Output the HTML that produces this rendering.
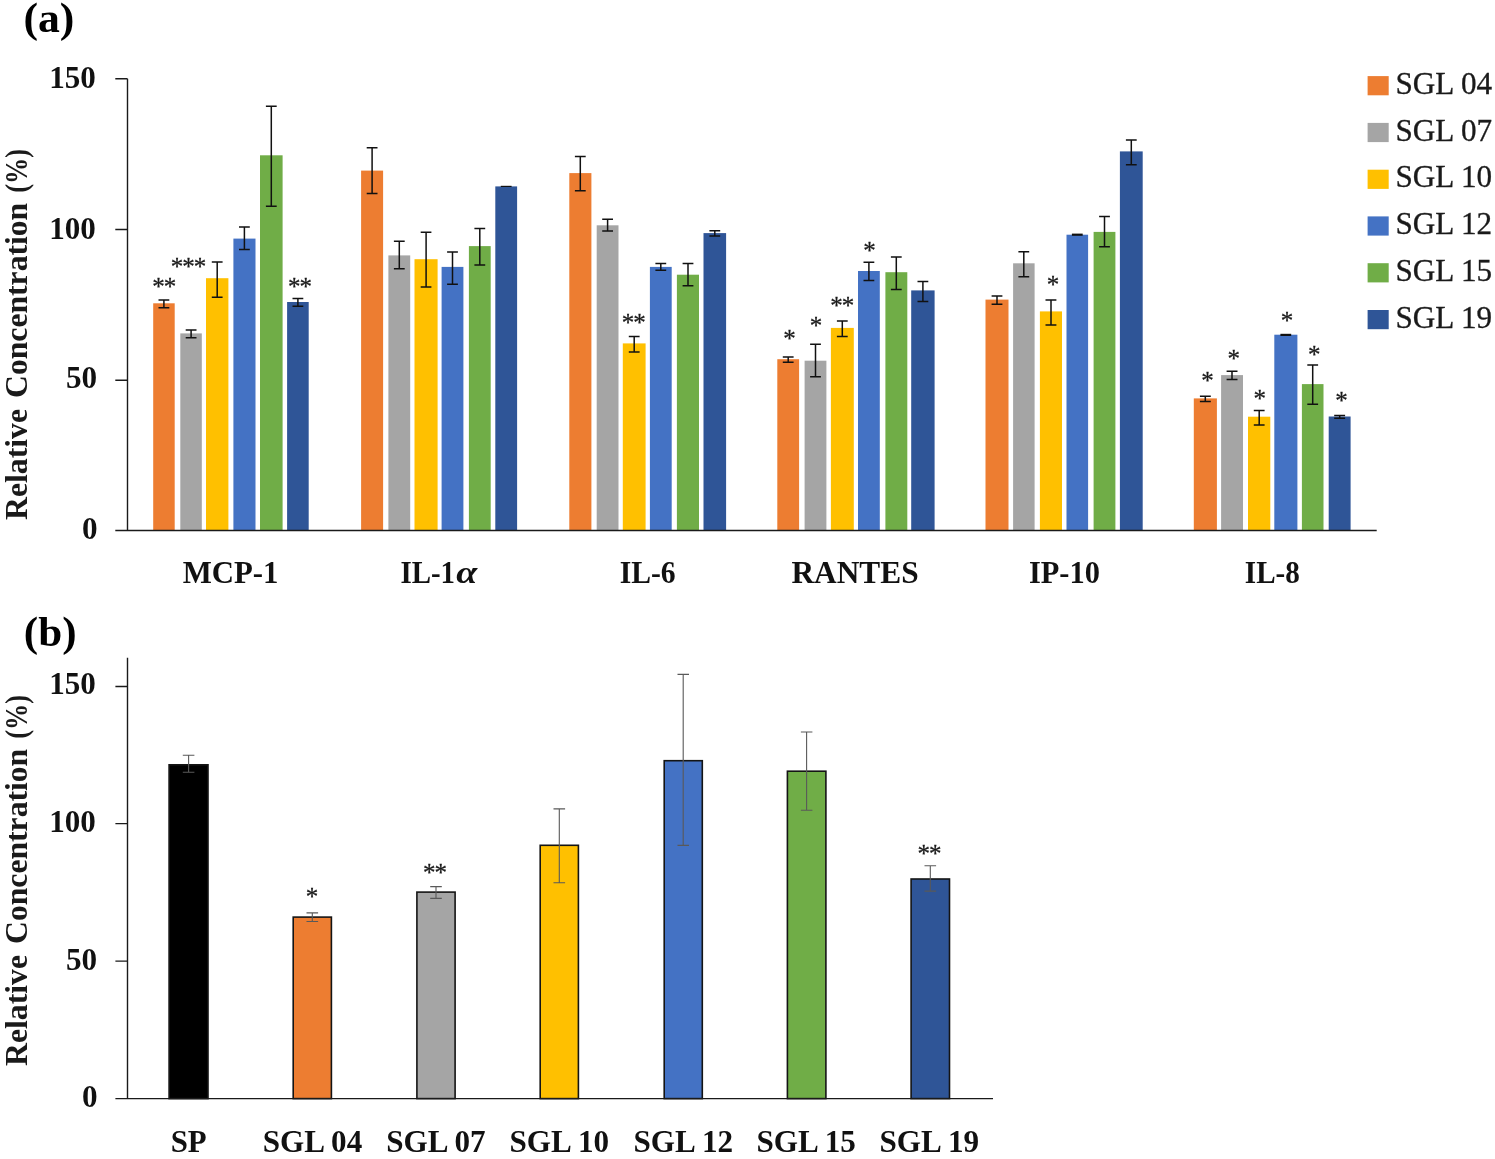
<!DOCTYPE html>
<html lang="en"><head><meta charset="utf-8"><title>Relative Concentration chart</title>
<style>html,body{margin:0;padding:0;background:#fff}body{width:1495px;height:1159px;overflow:hidden}svg{display:block}</style>
</head><body>
<svg width="1495" height="1159" viewBox="0 0 1495 1159">
<rect width="1495" height="1159" fill="#ffffff"/>
<text x="23.4" y="31.8" textLength="51" lengthAdjust="spacingAndGlyphs" font-family="'Liberation Serif', serif" font-weight="bold" font-size="43" fill="#000">(a)</text>
<text x="23.8" y="646.4" textLength="52.7" lengthAdjust="spacingAndGlyphs" font-family="'Liberation Serif', serif" font-weight="bold" font-size="43" fill="#000">(b)</text>
<rect x="153.2" y="303.3" width="21.5" height="227.2" fill="#ED7D31"/>
<rect x="180.3" y="333.4" width="21.5" height="197.1" fill="#A5A5A5"/>
<rect x="206.0" y="278.2" width="22.4" height="252.3" fill="#FFC000"/>
<rect x="233.4" y="238.6" width="22.1" height="291.9" fill="#4472C4"/>
<rect x="260.0" y="155.3" width="22.6" height="375.2" fill="#70AD47"/>
<rect x="287.1" y="302.0" width="21.6" height="228.5" fill="#2F5597"/>
<rect x="361.1" y="170.6" width="22.0" height="359.9" fill="#ED7D31"/>
<rect x="388.4" y="255.4" width="21.8" height="275.1" fill="#A5A5A5"/>
<rect x="414.5" y="259.2" width="23.1" height="271.3" fill="#FFC000"/>
<rect x="441.6" y="266.9" width="21.8" height="263.6" fill="#4472C4"/>
<rect x="468.9" y="246.1" width="21.8" height="284.4" fill="#70AD47"/>
<rect x="495.3" y="186.4" width="21.8" height="344.1" fill="#2F5597"/>
<rect x="569.3" y="173.1" width="22.1" height="357.4" fill="#ED7D31"/>
<rect x="596.7" y="225.3" width="21.8" height="305.2" fill="#A5A5A5"/>
<rect x="622.8" y="343.4" width="22.8" height="187.1" fill="#FFC000"/>
<rect x="649.9" y="266.9" width="21.8" height="263.6" fill="#4472C4"/>
<rect x="676.9" y="274.7" width="22.1" height="255.8" fill="#70AD47"/>
<rect x="703.5" y="233.1" width="22.6" height="297.4" fill="#2F5597"/>
<rect x="777.3" y="359.2" width="21.8" height="171.3" fill="#ED7D31"/>
<rect x="804.6" y="360.7" width="21.8" height="169.8" fill="#A5A5A5"/>
<rect x="830.9" y="327.9" width="22.9" height="202.6" fill="#FFC000"/>
<rect x="858.0" y="271.0" width="21.8" height="259.5" fill="#4472C4"/>
<rect x="885.4" y="272.2" width="21.9" height="258.3" fill="#70AD47"/>
<rect x="911.2" y="290.4" width="23.4" height="240.1" fill="#2F5597"/>
<rect x="985.5" y="299.6" width="23.0" height="230.9" fill="#ED7D31"/>
<rect x="1013.1" y="263.3" width="21.5" height="267.2" fill="#A5A5A5"/>
<rect x="1039.9" y="311.4" width="22.1" height="219.1" fill="#FFC000"/>
<rect x="1066.5" y="234.7" width="21.6" height="295.8" fill="#4472C4"/>
<rect x="1093.6" y="231.9" width="21.8" height="298.6" fill="#70AD47"/>
<rect x="1119.9" y="151.4" width="22.8" height="379.1" fill="#2F5597"/>
<rect x="1193.8" y="398.4" width="23.1" height="132.1" fill="#ED7D31"/>
<rect x="1221.1" y="375.1" width="21.9" height="155.4" fill="#A5A5A5"/>
<rect x="1248.0" y="416.7" width="22.3" height="113.8" fill="#FFC000"/>
<rect x="1274.3" y="334.7" width="23.1" height="195.8" fill="#4472C4"/>
<rect x="1301.9" y="384.1" width="21.6" height="146.4" fill="#70AD47"/>
<rect x="1328.7" y="416.5" width="21.9" height="114.0" fill="#2F5597"/>
<path d="M127.5 78.7 V530.5 M115.3 530.5 H1376.7 M115.3 78.7 H127.5 M115.3 229.5 H127.5 M115.3 380.3 H127.5" stroke="#1a1a1a" stroke-width="1.4" fill="none"/>
<path d="M163.9 300.0 V307.8 M158.5 300.0 H169.3 M158.5 307.8 H169.3" stroke="#111" stroke-width="1.5" fill="none"/>
<path d="M191.1 329.9 V337.7 M185.7 329.9 H196.5 M185.7 337.7 H196.5" stroke="#111" stroke-width="1.5" fill="none"/>
<path d="M217.2 261.9 V297.3 M211.8 261.9 H222.6 M211.8 297.3 H222.6" stroke="#111" stroke-width="1.5" fill="none"/>
<path d="M244.4 227.0 V249.4 M239.0 227.0 H249.8 M239.0 249.4 H249.8" stroke="#111" stroke-width="1.5" fill="none"/>
<path d="M271.3 106.2 V206.2 M265.9 106.2 H276.7 M265.9 206.2 H276.7" stroke="#111" stroke-width="1.5" fill="none"/>
<path d="M297.9 298.5 V306.3 M292.5 298.5 H303.3 M292.5 306.3 H303.3" stroke="#111" stroke-width="1.5" fill="none"/>
<path d="M372.1 147.8 V193.4 M366.7 147.8 H377.5 M366.7 193.4 H377.5" stroke="#111" stroke-width="1.5" fill="none"/>
<path d="M399.3 241.3 V268.7 M393.9 241.3 H404.7 M393.9 268.7 H404.7" stroke="#111" stroke-width="1.5" fill="none"/>
<path d="M426.1 232.3 V287.0 M420.7 232.3 H431.4 M420.7 287.0 H431.4" stroke="#111" stroke-width="1.5" fill="none"/>
<path d="M452.5 251.9 V284.2 M447.1 251.9 H457.9 M447.1 284.2 H457.9" stroke="#111" stroke-width="1.5" fill="none"/>
<path d="M479.8 228.5 V264.9 M474.4 228.5 H485.2 M474.4 264.9 H485.2" stroke="#111" stroke-width="1.5" fill="none"/>
<path d="M500.8 186.4 H511.6" stroke="#111" stroke-width="1.2" fill="none"/>
<path d="M580.3 156.6 V190.7 M574.9 156.6 H585.7 M574.9 190.7 H585.7" stroke="#111" stroke-width="1.5" fill="none"/>
<path d="M607.6 219.3 V231.1 M602.2 219.3 H613.0 M602.2 231.1 H613.0" stroke="#111" stroke-width="1.5" fill="none"/>
<path d="M634.2 336.4 V352.0 M628.8 336.4 H639.6 M628.8 352.0 H639.6" stroke="#111" stroke-width="1.5" fill="none"/>
<path d="M660.8 263.4 V270.2 M655.4 263.4 H666.2 M655.4 270.2 H666.2" stroke="#111" stroke-width="1.5" fill="none"/>
<path d="M688.0 263.4 V285.8 M682.6 263.4 H693.4 M682.6 285.8 H693.4" stroke="#111" stroke-width="1.5" fill="none"/>
<path d="M714.8 230.8 V236.1 M709.4 230.8 H720.2 M709.4 236.1 H720.2" stroke="#111" stroke-width="1.5" fill="none"/>
<path d="M788.2 357.0 V362.3 M782.8 357.0 H793.6 M782.8 362.3 H793.6" stroke="#111" stroke-width="1.5" fill="none"/>
<path d="M815.5 344.2 V376.8 M810.1 344.2 H820.9 M810.1 376.8 H820.9" stroke="#111" stroke-width="1.5" fill="none"/>
<path d="M842.3 320.9 V336.4 M836.9 320.9 H847.7 M836.9 336.4 H847.7" stroke="#111" stroke-width="1.5" fill="none"/>
<path d="M868.9 262.2 V280.5 M863.5 262.2 H874.3 M863.5 280.5 H874.3" stroke="#111" stroke-width="1.5" fill="none"/>
<path d="M896.3 257.0 V289.6 M890.9 257.0 H901.7 M890.9 289.6 H901.7" stroke="#111" stroke-width="1.5" fill="none"/>
<path d="M922.9 281.6 V301.4 M917.5 281.6 H928.3 M917.5 301.4 H928.3" stroke="#111" stroke-width="1.5" fill="none"/>
<path d="M997.0 295.9 V304.2 M991.6 295.9 H1002.4 M991.6 304.2 H1002.4" stroke="#111" stroke-width="1.5" fill="none"/>
<path d="M1023.8 251.7 V276.8 M1018.4 251.7 H1029.2 M1018.4 276.8 H1029.2" stroke="#111" stroke-width="1.5" fill="none"/>
<path d="M1051.0 299.9 V325.0 M1045.5 299.9 H1056.4 M1045.5 325.0 H1056.4" stroke="#111" stroke-width="1.5" fill="none"/>
<path d="M1071.9 234.7 H1082.7" stroke="#111" stroke-width="2.2" fill="none"/>
<path d="M1104.5 216.6 V246.7 M1099.1 216.6 H1109.9 M1099.1 246.7 H1109.9" stroke="#111" stroke-width="1.5" fill="none"/>
<path d="M1131.3 139.9 V164.7 M1125.9 139.9 H1136.7 M1125.9 164.7 H1136.7" stroke="#111" stroke-width="1.5" fill="none"/>
<path d="M1205.3 396.2 V401.4 M1199.9 396.2 H1210.8 M1199.9 401.4 H1210.8" stroke="#111" stroke-width="1.5" fill="none"/>
<path d="M1232.0 371.3 V379.4 M1226.6 371.3 H1237.5 M1226.6 379.4 H1237.5" stroke="#111" stroke-width="1.5" fill="none"/>
<path d="M1259.2 410.5 V425.0 M1253.8 410.5 H1264.6 M1253.8 425.0 H1264.6" stroke="#111" stroke-width="1.5" fill="none"/>
<path d="M1280.4 334.9 H1291.2" stroke="#111" stroke-width="2.2" fill="none"/>
<path d="M1312.7 365.1 V404.2 M1307.3 365.1 H1318.1 M1307.3 404.2 H1318.1" stroke="#111" stroke-width="1.5" fill="none"/>
<path d="M1339.7 415.4 V418.2 M1334.2 415.4 H1345.1 M1334.2 418.2 H1345.1" stroke="#111" stroke-width="1.5" fill="none"/>
<text x="95.9" y="87.8" text-anchor="end" textLength="46.6" lengthAdjust="spacingAndGlyphs" font-family="'Liberation Serif', serif" font-weight="bold" font-size="32" fill="#111">150</text>
<text x="95.9" y="238.5" text-anchor="end" textLength="46.6" lengthAdjust="spacingAndGlyphs" font-family="'Liberation Serif', serif" font-weight="bold" font-size="32" fill="#111">100</text>
<text x="97.2" y="387.8" text-anchor="end" textLength="31.2" lengthAdjust="spacingAndGlyphs" font-family="'Liberation Serif', serif" font-weight="bold" font-size="32" fill="#111">50</text>
<text x="97.6" y="538.8" text-anchor="end" textLength="15.6" lengthAdjust="spacingAndGlyphs" font-family="'Liberation Serif', serif" font-weight="bold" font-size="32" fill="#111">0</text>
<text transform="translate(26.9 519.9) rotate(-90)" textLength="110.9" lengthAdjust="spacingAndGlyphs" font-family="'Liberation Serif', serif" font-weight="bold" font-size="32.5" fill="#1a1a1a">Relative</text>
<text transform="translate(26.9 397.9) rotate(-90)" textLength="195.1" lengthAdjust="spacingAndGlyphs" font-family="'Liberation Serif', serif" font-weight="bold" font-size="32.5" fill="#1a1a1a">Concentration</text>
<text transform="translate(26.9 192.8) rotate(-90)" textLength="43.8" lengthAdjust="spacingAndGlyphs" font-family="'Liberation Serif', serif" font-weight="bold" font-size="32.5" fill="#1a1a1a">(%)</text>
<text x="230.6" y="583.3" text-anchor="middle" textLength="95.8" lengthAdjust="spacingAndGlyphs" font-family="'Liberation Serif', serif" font-weight="bold" font-size="32.5" fill="#111">MCP-1</text>
<text x="400.4" y="583.3" textLength="54.6" lengthAdjust="spacingAndGlyphs" font-family="'Liberation Serif', serif" font-weight="bold" font-size="32.5" fill="#111">IL-1</text>
<text x="456.3" y="583.3" textLength="21" lengthAdjust="spacingAndGlyphs" font-family="'Liberation Serif', serif" font-weight="bold" font-style="italic" font-size="32.5" fill="#111">α</text>
<text x="647.7" y="583.3" text-anchor="middle" textLength="56.0" lengthAdjust="spacingAndGlyphs" font-family="'Liberation Serif', serif" font-weight="bold" font-size="32.5" fill="#111">IL-6</text>
<text x="855.0" y="583.3" text-anchor="middle" textLength="127.2" lengthAdjust="spacingAndGlyphs" font-family="'Liberation Serif', serif" font-weight="bold" font-size="32.5" fill="#111">RANTES</text>
<text x="1064.4" y="583.3" text-anchor="middle" textLength="71.0" lengthAdjust="spacingAndGlyphs" font-family="'Liberation Serif', serif" font-weight="bold" font-size="32.5" fill="#111">IP-10</text>
<text x="1272.3" y="583.3" text-anchor="middle" textLength="55.0" lengthAdjust="spacingAndGlyphs" font-family="'Liberation Serif', serif" font-weight="bold" font-size="32.5" fill="#111">IL-8</text>
<text x="163.8" y="295.4" text-anchor="middle" letter-spacing="-1.05" font-family="'Liberation Serif', serif" font-size="25" fill="#1a1a1a" stroke="#1a1a1a" stroke-width="0.3">**</text>
<text x="188.0" y="274.9" text-anchor="middle" letter-spacing="-1.05" font-family="'Liberation Serif', serif" font-size="25" fill="#1a1a1a" stroke="#1a1a1a" stroke-width="0.3">***</text>
<text x="299.5" y="295.4" text-anchor="middle" letter-spacing="-1.05" font-family="'Liberation Serif', serif" font-size="25" fill="#1a1a1a" stroke="#1a1a1a" stroke-width="0.3">**</text>
<text x="633.3" y="331.2" text-anchor="middle" letter-spacing="-1.05" font-family="'Liberation Serif', serif" font-size="25" fill="#1a1a1a" stroke="#1a1a1a" stroke-width="0.3">**</text>
<text x="789.1" y="347.4" text-anchor="middle" letter-spacing="-1.05" font-family="'Liberation Serif', serif" font-size="25" fill="#1a1a1a" stroke="#1a1a1a" stroke-width="0.3">*</text>
<text x="815.5" y="333.7" text-anchor="middle" letter-spacing="-1.05" font-family="'Liberation Serif', serif" font-size="25" fill="#1a1a1a" stroke="#1a1a1a" stroke-width="0.3">*</text>
<text x="841.8" y="314.4" text-anchor="middle" letter-spacing="-1.05" font-family="'Liberation Serif', serif" font-size="25" fill="#1a1a1a" stroke="#1a1a1a" stroke-width="0.3">**</text>
<text x="869.1" y="259.2" text-anchor="middle" letter-spacing="-1.05" font-family="'Liberation Serif', serif" font-size="25" fill="#1a1a1a" stroke="#1a1a1a" stroke-width="0.3">*</text>
<text x="1052.5" y="292.7" text-anchor="middle" letter-spacing="-1.05" font-family="'Liberation Serif', serif" font-size="25" fill="#1a1a1a" stroke="#1a1a1a" stroke-width="0.3">*</text>
<text x="1207.1" y="388.6" text-anchor="middle" letter-spacing="-1.05" font-family="'Liberation Serif', serif" font-size="25" fill="#1a1a1a" stroke="#1a1a1a" stroke-width="0.3">*</text>
<text x="1233.2" y="367.4" text-anchor="middle" letter-spacing="-1.05" font-family="'Liberation Serif', serif" font-size="25" fill="#1a1a1a" stroke="#1a1a1a" stroke-width="0.3">*</text>
<text x="1259.3" y="406.6" text-anchor="middle" letter-spacing="-1.05" font-family="'Liberation Serif', serif" font-size="25" fill="#1a1a1a" stroke="#1a1a1a" stroke-width="0.3">*</text>
<text x="1286.4" y="329.4" text-anchor="middle" letter-spacing="-1.05" font-family="'Liberation Serif', serif" font-size="25" fill="#1a1a1a" stroke="#1a1a1a" stroke-width="0.3">*</text>
<text x="1313.7" y="362.8" text-anchor="middle" letter-spacing="-1.05" font-family="'Liberation Serif', serif" font-size="25" fill="#1a1a1a" stroke="#1a1a1a" stroke-width="0.3">*</text>
<text x="1341.0" y="409.1" text-anchor="middle" letter-spacing="-1.05" font-family="'Liberation Serif', serif" font-size="25" fill="#1a1a1a" stroke="#1a1a1a" stroke-width="0.3">*</text>
<rect x="1367.6" y="76.1" width="21.1" height="19.2" fill="#ED7D31"/>
<text x="1395.4" y="93.8" textLength="96.7" lengthAdjust="spacingAndGlyphs" font-family="'Liberation Serif', serif" font-size="30.5" fill="#1a1a1a" stroke="#1a1a1a" stroke-width="0.3">SGL 04</text>
<rect x="1367.6" y="122.9" width="21.1" height="19.2" fill="#A5A5A5"/>
<text x="1395.4" y="140.6" textLength="96.7" lengthAdjust="spacingAndGlyphs" font-family="'Liberation Serif', serif" font-size="30.5" fill="#1a1a1a" stroke="#1a1a1a" stroke-width="0.3">SGL 07</text>
<rect x="1367.6" y="169.7" width="21.1" height="19.2" fill="#FFC000"/>
<text x="1395.4" y="187.4" textLength="96.7" lengthAdjust="spacingAndGlyphs" font-family="'Liberation Serif', serif" font-size="30.5" fill="#1a1a1a" stroke="#1a1a1a" stroke-width="0.3">SGL 10</text>
<rect x="1367.6" y="216.4" width="21.1" height="19.2" fill="#4472C4"/>
<text x="1395.4" y="234.1" textLength="96.7" lengthAdjust="spacingAndGlyphs" font-family="'Liberation Serif', serif" font-size="30.5" fill="#1a1a1a" stroke="#1a1a1a" stroke-width="0.3">SGL 12</text>
<rect x="1367.6" y="263.2" width="21.1" height="19.2" fill="#70AD47"/>
<text x="1395.4" y="280.9" textLength="96.7" lengthAdjust="spacingAndGlyphs" font-family="'Liberation Serif', serif" font-size="30.5" fill="#1a1a1a" stroke="#1a1a1a" stroke-width="0.3">SGL 15</text>
<rect x="1367.6" y="310.0" width="21.1" height="19.2" fill="#2F5597"/>
<text x="1395.4" y="327.7" textLength="96.7" lengthAdjust="spacingAndGlyphs" font-family="'Liberation Serif', serif" font-size="30.5" fill="#1a1a1a" stroke="#1a1a1a" stroke-width="0.3">SGL 19</text>
<rect x="169.1" y="764.8" width="38.9" height="333.8" fill="#000000" stroke="#141414" stroke-width="1.6"/>
<rect x="293.2" y="917.1" width="38.2" height="181.5" fill="#ED7D31" stroke="#141414" stroke-width="1.6"/>
<rect x="416.9" y="892.1" width="38.2" height="206.5" fill="#A5A5A5" stroke="#141414" stroke-width="1.6"/>
<rect x="540.2" y="845.3" width="38.2" height="253.3" fill="#FFC000" stroke="#141414" stroke-width="1.6"/>
<rect x="664.2" y="760.7" width="38.1" height="337.9" fill="#4472C4" stroke="#141414" stroke-width="1.6"/>
<rect x="787.4" y="771.2" width="38.5" height="327.4" fill="#70AD47" stroke="#141414" stroke-width="1.6"/>
<rect x="911.1" y="879.0" width="38.4" height="219.6" fill="#2F5597" stroke="#141414" stroke-width="1.6"/>
<path d="M127.5 657.7 V1098.6 M115.4 1098.6 H993 M115.4 686.5 H127.5 M115.4 823.6 H127.5 M115.4 961.1 H127.5" stroke="#1a1a1a" stroke-width="1.4" fill="none"/>
<path d="M188.6 755.3 V772.3 M182.8 755.3 H194.4 M182.8 772.3 H194.4" stroke="#595959" stroke-width="1.1" fill="none"/>
<path d="M312.3 912.9 V921.5 M306.5 912.9 H318.1 M306.5 921.5 H318.1" stroke="#595959" stroke-width="1.1" fill="none"/>
<path d="M436.0 886.6 V898.4 M430.2 886.6 H441.8 M430.2 898.4 H441.8" stroke="#595959" stroke-width="1.1" fill="none"/>
<path d="M559.3 808.9 V882.7 M553.5 808.9 H565.1 M553.5 882.7 H565.1" stroke="#595959" stroke-width="1.1" fill="none"/>
<path d="M683.2 674.4 V845.4 M677.5 674.4 H689.0 M677.5 845.4 H689.0" stroke="#595959" stroke-width="1.1" fill="none"/>
<path d="M806.6 732.0 V810.3 M800.9 732.0 H812.4 M800.9 810.3 H812.4" stroke="#595959" stroke-width="1.1" fill="none"/>
<path d="M930.3 865.8 V891.1 M924.5 865.8 H936.1 M924.5 891.1 H936.1" stroke="#595959" stroke-width="1.1" fill="none"/>
<text x="95.9" y="693.8" text-anchor="end" textLength="46.6" lengthAdjust="spacingAndGlyphs" font-family="'Liberation Serif', serif" font-weight="bold" font-size="32" fill="#111">150</text>
<text x="95.9" y="831.5" text-anchor="end" textLength="46.6" lengthAdjust="spacingAndGlyphs" font-family="'Liberation Serif', serif" font-weight="bold" font-size="32" fill="#111">100</text>
<text x="97.2" y="969.5" text-anchor="end" textLength="31.2" lengthAdjust="spacingAndGlyphs" font-family="'Liberation Serif', serif" font-weight="bold" font-size="32" fill="#111">50</text>
<text x="97.6" y="1107.4" text-anchor="end" textLength="15.6" lengthAdjust="spacingAndGlyphs" font-family="'Liberation Serif', serif" font-weight="bold" font-size="32" fill="#111">0</text>
<text transform="translate(26.9 1065.9) rotate(-90)" textLength="110.9" lengthAdjust="spacingAndGlyphs" font-family="'Liberation Serif', serif" font-weight="bold" font-size="32.5" fill="#1a1a1a">Relative</text>
<text transform="translate(26.9 943.9) rotate(-90)" textLength="195.1" lengthAdjust="spacingAndGlyphs" font-family="'Liberation Serif', serif" font-weight="bold" font-size="32.5" fill="#1a1a1a">Concentration</text>
<text transform="translate(26.9 738.8) rotate(-90)" textLength="43.8" lengthAdjust="spacingAndGlyphs" font-family="'Liberation Serif', serif" font-weight="bold" font-size="32.5" fill="#1a1a1a">(%)</text>
<text x="188.7" y="1151.9" text-anchor="middle" textLength="36.0" lengthAdjust="spacingAndGlyphs" font-family="'Liberation Serif', serif" font-weight="bold" font-size="32.5" fill="#111">SP</text>
<text x="312.5" y="1151.9" text-anchor="middle" textLength="99.5" lengthAdjust="spacingAndGlyphs" font-family="'Liberation Serif', serif" font-weight="bold" font-size="32.5" fill="#111">SGL 04</text>
<text x="435.9" y="1151.9" text-anchor="middle" textLength="99.5" lengthAdjust="spacingAndGlyphs" font-family="'Liberation Serif', serif" font-weight="bold" font-size="32.5" fill="#111">SGL 07</text>
<text x="559.3" y="1151.9" text-anchor="middle" textLength="99.5" lengthAdjust="spacingAndGlyphs" font-family="'Liberation Serif', serif" font-weight="bold" font-size="32.5" fill="#111">SGL 10</text>
<text x="683.3" y="1151.9" text-anchor="middle" textLength="99.5" lengthAdjust="spacingAndGlyphs" font-family="'Liberation Serif', serif" font-weight="bold" font-size="32.5" fill="#111">SGL 12</text>
<text x="806.2" y="1151.9" text-anchor="middle" textLength="99.5" lengthAdjust="spacingAndGlyphs" font-family="'Liberation Serif', serif" font-weight="bold" font-size="32.5" fill="#111">SGL 15</text>
<text x="929.3" y="1151.9" text-anchor="middle" textLength="99.5" lengthAdjust="spacingAndGlyphs" font-family="'Liberation Serif', serif" font-weight="bold" font-size="32.5" fill="#111">SGL 19</text>
<text x="311.5" y="904.8" text-anchor="middle" letter-spacing="-1.05" font-family="'Liberation Serif', serif" font-size="25" fill="#1a1a1a" stroke="#1a1a1a" stroke-width="0.3">*</text>
<text x="434.5" y="880.5" text-anchor="middle" letter-spacing="-1.05" font-family="'Liberation Serif', serif" font-size="25" fill="#1a1a1a" stroke="#1a1a1a" stroke-width="0.3">**</text>
<text x="929.0" y="861.9" text-anchor="middle" letter-spacing="-1.05" font-family="'Liberation Serif', serif" font-size="25" fill="#1a1a1a" stroke="#1a1a1a" stroke-width="0.3">**</text>
</svg>
</body></html>
